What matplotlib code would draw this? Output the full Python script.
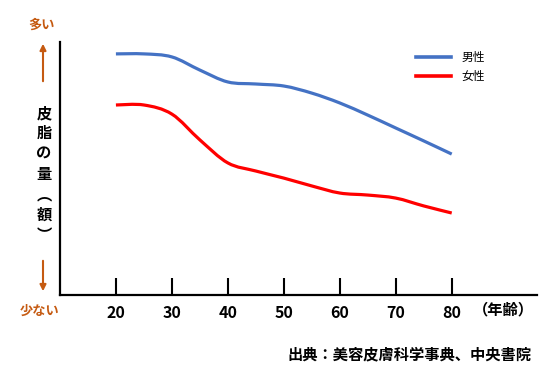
import numpy as np
import matplotlib.pyplot as plt
from matplotlib.path import Path
from matplotlib.patches import PathPatch

plt.rcParams['font.family'] = ['Noto Sans CJK JP', 'DejaVu Sans']

# --- データ（図から読み取り、縦軸は相対値 0〜100） ---
ages = [20, 25, 30, 35, 40, 45, 50, 55, 60, 65, 70, 75, 80]
male = [95.3, 95.3, 94.1, 88.9, 84.2, 83.4, 82.6, 79.8, 75.9, 71.1, 66.0, 60.9, 55.7]
female = [75.1, 75.1, 71.5, 61.3, 52.2, 49.0, 46.2, 43.1, 40.3, 39.5, 38.3, 35.2, 32.4]
xticks = [20, 30, 40, 50, 60, 70, 80]
series_names = ['男性', '女性']
ylabel_chars = ['皮', '脂', 'の', '量', '︵', '額', '︶']

BLUE = '#4472C4'
RED = '#FF0000'
ORANGE = '#C55A11'


def smooth_path(xs, ys):
    # Catmull-Rom をベジェに変換して滑らかな線にする
    p = np.column_stack([xs, ys]).astype(float)
    verts = [p[0]]
    codes = [Path.MOVETO]
    n = len(p)
    for i in range(n - 1):
        p0 = p[i - 1] if i > 0 else p[i]
        p1 = p[i]
        p2 = p[i + 1]
        p3 = p[i + 2] if i + 2 < n else p[i + 1]
        c1 = p1 + (p2 - p0) / 6.0
        c2 = p2 - (p3 - p1) / 6.0
        verts += [c1, c2, p2]
        codes += [Path.CURVE4] * 3
    return Path(verts, codes)


fig = plt.figure(figsize=(5.5, 3.71), dpi=100)
ax = fig.add_axes([0.109, 0.2049, 0.867, 0.6819])

for ys, col, name in [(male, BLUE, series_names[0]), (female, RED, series_names[1])]:
    ax.add_patch(PathPatch(smooth_path(ages, ys), fill=False, edgecolor=col,
                           linewidth=2.3, capstyle='butt'))
    ax.plot([], [], color=col, linewidth=2.6, label=name)

ax.set_xlim(10, 95.2)
ax.set_ylim(0, 100)

for s in ['top', 'right']:
    ax.spines[s].set_visible(False)
for s in ['left', 'bottom']:
    ax.spines[s].set_linewidth(1.6)
    ax.spines[s].set_color('black')

ax.set_yticks([])
ax.set_xticks(xticks)
ax.set_xticklabels([str(t) for t in xticks], fontsize=11.5, fontweight='bold')
ax.tick_params(axis='x', direction='in', length=12.5, width=1.5, pad=7)

leg = ax.legend(loc='upper left', bbox_to_anchor=(0.725, 1.005), frameon=False,
                fontsize=8.5, handlelength=2.9, handletextpad=0.9, labelspacing=0.45)

# 縦軸ラベル（縦書き）
yl_top = 113
for i, ch in enumerate(ylabel_chars):
    fig.text(44 / 550, 1 - (yl_top + i * 20.3) / 371, ch, ha='center', va='center',
             fontsize=11, fontweight='bold')

# 多い / 少ない と矢印
fig.text(42 / 550, 1 - 25 / 371, '多い', ha='center', va='center',
         fontsize=9.5, fontweight='bold', color=ORANGE)
fig.text(40 / 550, 1 - 311 / 371, '少ない', ha='center', va='center',
         fontsize=9.5, fontweight='bold', color=ORANGE)
ax.annotate('', xy=(43 / 550, 1 - 41 / 371), xytext=(43 / 550, 1 - 84 / 371),
            xycoords='figure fraction',
            arrowprops=dict(arrowstyle='-|>', color=ORANGE, lw=1.5, mutation_scale=9))
ax.annotate('', xy=(43 / 550, 1 - 294 / 371), xytext=(43 / 550, 1 - 258 / 371),
            xycoords='figure fraction',
            arrowprops=dict(arrowstyle='-|>', color=ORANGE, lw=1.5, mutation_scale=9))

fig.text(503 / 550, 1 - 309 / 371, '（年齢）', ha='center', va='center',
         fontsize=11, fontweight='bold')
fig.text(531 / 550, 1 - 354 / 371, '出典：美容皮膚科学事典、中央書院', ha='right',
         va='center', fontsize=11, fontweight='bold')

fig.savefig('out.png', dpi=100)
